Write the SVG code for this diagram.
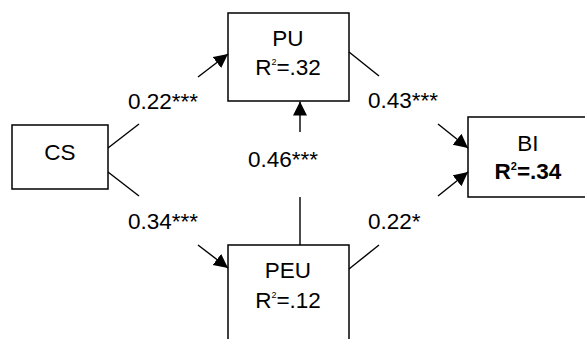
<svg xmlns="http://www.w3.org/2000/svg" width="585" height="339" viewBox="0 0 585 339">
<defs>
<marker id="ah" markerUnits="userSpaceOnUse" markerWidth="15" markerHeight="15" refX="14" refY="7" orient="auto">
<path d="M0,0 L14,7 L0,14 z" fill="#000"/>
</marker>
<style>
text{font-family:"Liberation Sans",Arial,Helvetica,sans-serif;font-size:22.5px;fill:#000}
.box{fill:#fff;stroke:#000;stroke-width:1.5}
.c{stroke:#000;stroke-width:1.4;fill:none}
.m{text-anchor:middle}
.b{font-weight:bold}
</style>
</defs>
<rect width="585" height="339" fill="#fff"/>
<g id="CS"><rect class="box" x="12" y="125" width="96" height="64"/><text class="m" x="60" y="160">CS</text></g>
<g id="PU"><rect class="box" x="228" y="13" width="121" height="88"/><text class="m" x="288" y="46">PU</text><text class="m" x="288" y="75">R<tspan font-size="9" dy="-10">2</tspan><tspan dy="10">=.32</tspan></text></g>
<g id="PEU"><rect class="box" x="228" y="245" width="121" height="120"/><text class="m" x="288" y="278">PEU</text><text class="m" x="288" y="308">R<tspan font-size="9" dy="-10">2</tspan><tspan dy="10">=.12</tspan></text></g>
<g id="BI"><rect class="box" x="468" y="117" width="130" height="80"/><text class="m" x="528" y="151">BI</text><text class="m b" x="528" y="179">R<tspan font-size="11" dy="-9">2</tspan><tspan dy="9">=.34</tspan></text></g>
<g id="connectors">
<path class="c" d="M108,148 L139,124"/><path class="c" d="M198,77 L228,54" marker-end="url(#ah)"/>
<path class="c" d="M108,172 L139,196"/><path class="c" d="M198,245 L228,268" marker-end="url(#ah)"/>
<path class="c" d="M349,52 L379,76"/><path class="c" d="M438,124 L468,148" marker-end="url(#ah)"/>
<path class="c" d="M349,269 L379,245"/><path class="c" d="M438,196 L468,172" marker-end="url(#ah)"/>
<path class="c" d="M300,245 L300,197"/><path class="c" d="M300,132 L300,101.5" marker-end="url(#ah)"/>
<text x="128" y="109">0.22***</text>
<text x="128" y="229">0.34***</text>
<text x="368" y="108">0.43***</text>
<text x="368" y="229">0.22*</text>
<text x="248" y="167">0.46***</text>
</g>
</svg>
